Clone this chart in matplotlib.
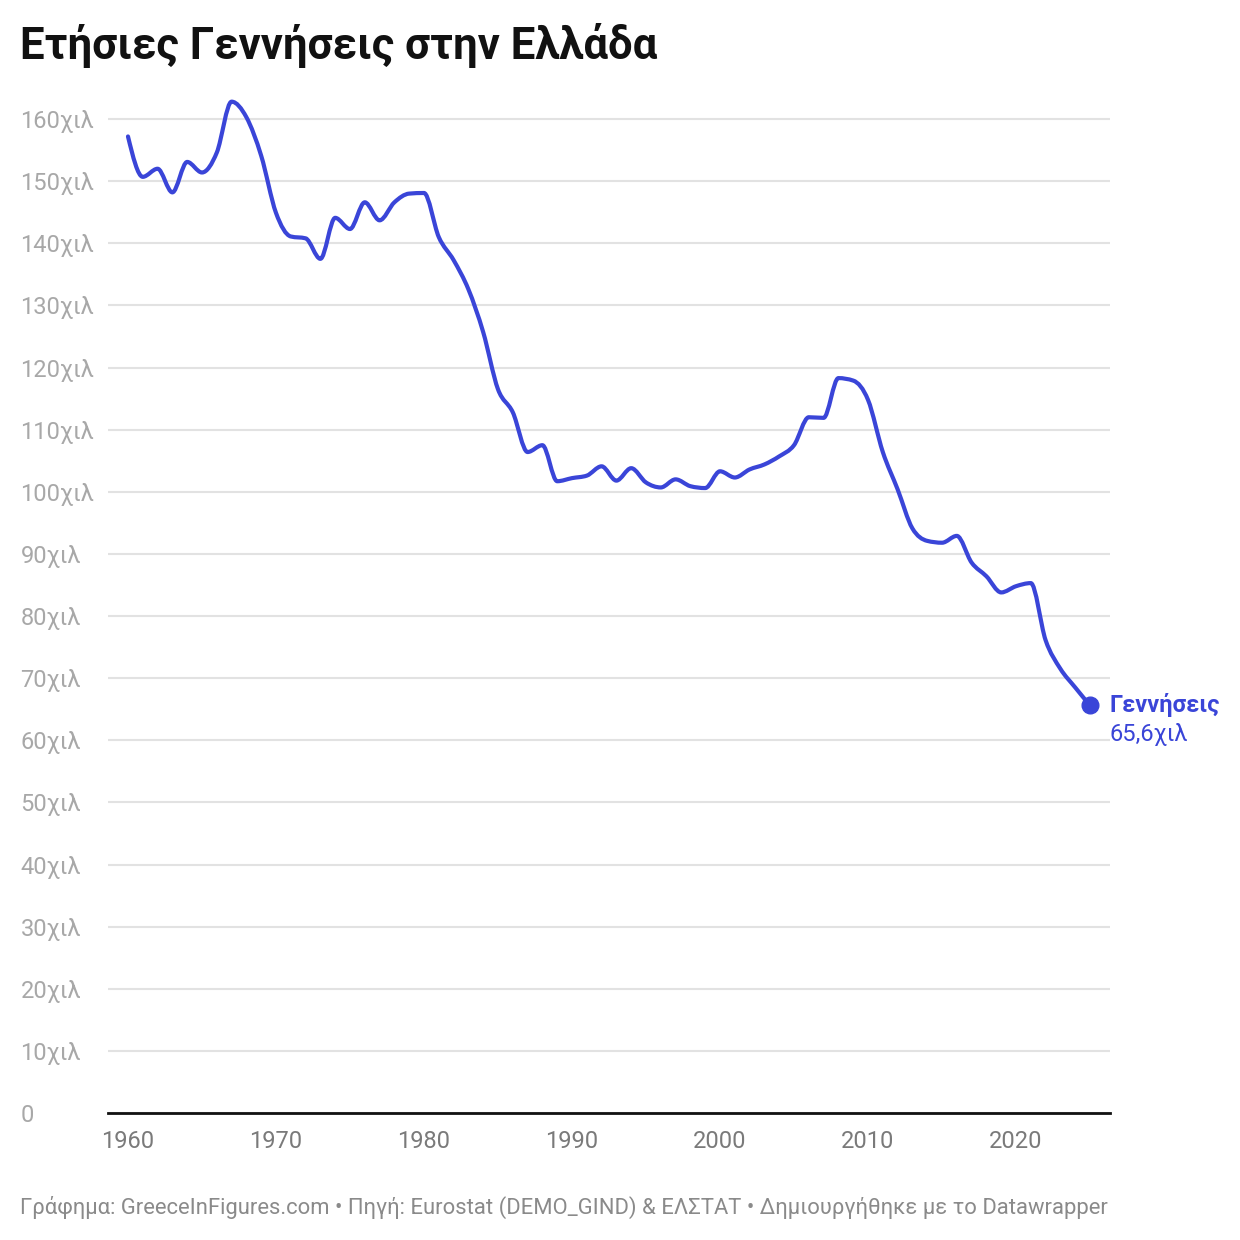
import numpy as np
import matplotlib
matplotlib.use('Agg')
from matplotlib import pyplot as plt
from matplotlib.path import Path
from matplotlib.patches import PathPatch

plt.rcParams['font.family'] = ['Roboto', 'DejaVu Sans']

# Annual live births in Greece [thousands]
years = list(range(1960, 2026))
births = [
	157.2, 150.7, 152.0, 148.2, 153.1, 151.4, 154.6, 162.8, 160.3, 154.1,  # 1960s
	144.9, 141.1, 140.8, 137.5, 144.1, 142.3, 146.6, 143.7, 146.6, 148.0,  # 1970s
	148.1, 141.0, 137.3, 132.6, 125.7, 116.5, 112.8, 106.4, 107.5, 101.7,  # 1980s
	102.2, 102.6, 104.1, 101.8, 103.8, 101.5, 100.7, 102.0, 100.9, 100.6,  # 1990s
	103.3, 102.3, 103.6, 104.4, 105.7, 107.5, 112.0, 111.9, 118.3, 117.9,  # 2000s
	114.8, 106.4, 100.4, 94.1, 92.1, 91.8, 92.9, 88.6, 86.4, 83.8,         # 2010s
	84.8, 85.3, 76.1, 71.5, 68.5, 65.6,                                      # 2020s
]
ytick_values = list(range(0, 161, 10))
ytick_labels = ['0'] + ['%dχιλ' % v for v in ytick_values[1:]]
xtick_values = list(range(1960, 2021, 10))

title = 'Ετήσιες Γεννήσεις στην Ελλάδα'
series_name = 'Γεννήσεις'
last_label = '65,6χιλ'
footer = ('Γράφημα: GreeceInFigures.com • Πηγή: Eurostat (DEMO_GIND) & ΕΛΣΤΑΤ '
	'• Δημιουργήθηκε με το Datawrapper')

blue = '#3a45d8'


def monotone_path(x, y):
	# same curve as d3.curveMonotoneX, written as cubic bezier segments
	x = np.asarray(x, float)
	y = np.asarray(y, float)
	n = len(x)
	h = np.diff(x)
	s = np.diff(y) / h
	t = np.zeros(n)
	for i in range(1, n - 1):
		p = (s[i - 1] * h[i] + s[i] * h[i - 1]) / (h[i - 1] + h[i])
		t[i] = (np.sign(s[i - 1]) + np.sign(s[i])) * min(abs(s[i - 1]), abs(s[i]), 0.5 * abs(p))
	t[0] = (3 * s[0] - t[1]) / 2
	t[-1] = (3 * s[-1] - t[-2]) / 2
	verts = [(x[0], y[0])]
	codes = [Path.MOVETO]
	for i in range(n - 1):
		dx = h[i] / 3
		verts += [(x[i] + dx, y[i] + dx * t[i]),
			(x[i + 1] - dx, y[i + 1] - dx * t[i + 1]),
			(x[i + 1], y[i + 1])]
		codes += [Path.CURVE4] * 3
	return Path(verts, codes)


fig = plt.figure(figsize=(12.4, 12.4), dpi=100)
ax = fig.add_axes([108 / 1240, 127 / 1240, 1002 / 1240, 1025 / 1240])

ax.add_patch(PathPatch(monotone_path(years, births), facecolor='none',
	edgecolor=blue, lw=3, capstyle='round', joinstyle='round', zorder=3))
ax.plot(years[-1], births[-1], 'o', color=blue, ms=12, zorder=4)

ax.set_xlim(1958.65, 2026.35)
ax.set_ylim(0, 165)

ax.set_yticks(ytick_values)
ax.set_yticklabels(ytick_labels)
ax.set_xticks(xtick_values)
ax.tick_params(axis='y', length=0, pad=63, labelsize=17, labelcolor='#a8a8a8')
ax.tick_params(axis='x', length=0, pad=12, labelsize=17, labelcolor='#7a7a7a')
for lab in ax.get_yticklabels():
	lab.set_horizontalalignment('left')

ax.grid(axis='y', color='#e2e2e2', lw=1.5)
ax.set_axisbelow(True)
for side in ['top', 'right', 'left']:
	ax.spines[side].set_visible(False)
ax.spines['bottom'].set_color('#111111')
ax.spines['bottom'].set_linewidth(2)
ax.spines['bottom'].set_zorder(5)

# end label
ax.annotate(series_name, (years[-1], births[-1]), xytext=(14, 0),
	textcoords='offset points', ha='left', va='center',
	fontsize=17, fontweight='bold', color=blue)
ax.annotate(last_label, (years[-1], births[-1]), xytext=(14, -21),
	textcoords='offset points', ha='left', va='center',
	fontsize=17, color=blue)

fig.text(20 / 1240, 1 - 46 / 1240, title, ha='left', va='center',
	fontsize=31.5, fontweight='bold', color='#111111')
fig.text(20 / 1240, 1 - 1207 / 1240, footer, ha='left', va='center',
	fontsize=15.85, color='#8a8a8a')

fig.savefig('out.png', dpi=100)
